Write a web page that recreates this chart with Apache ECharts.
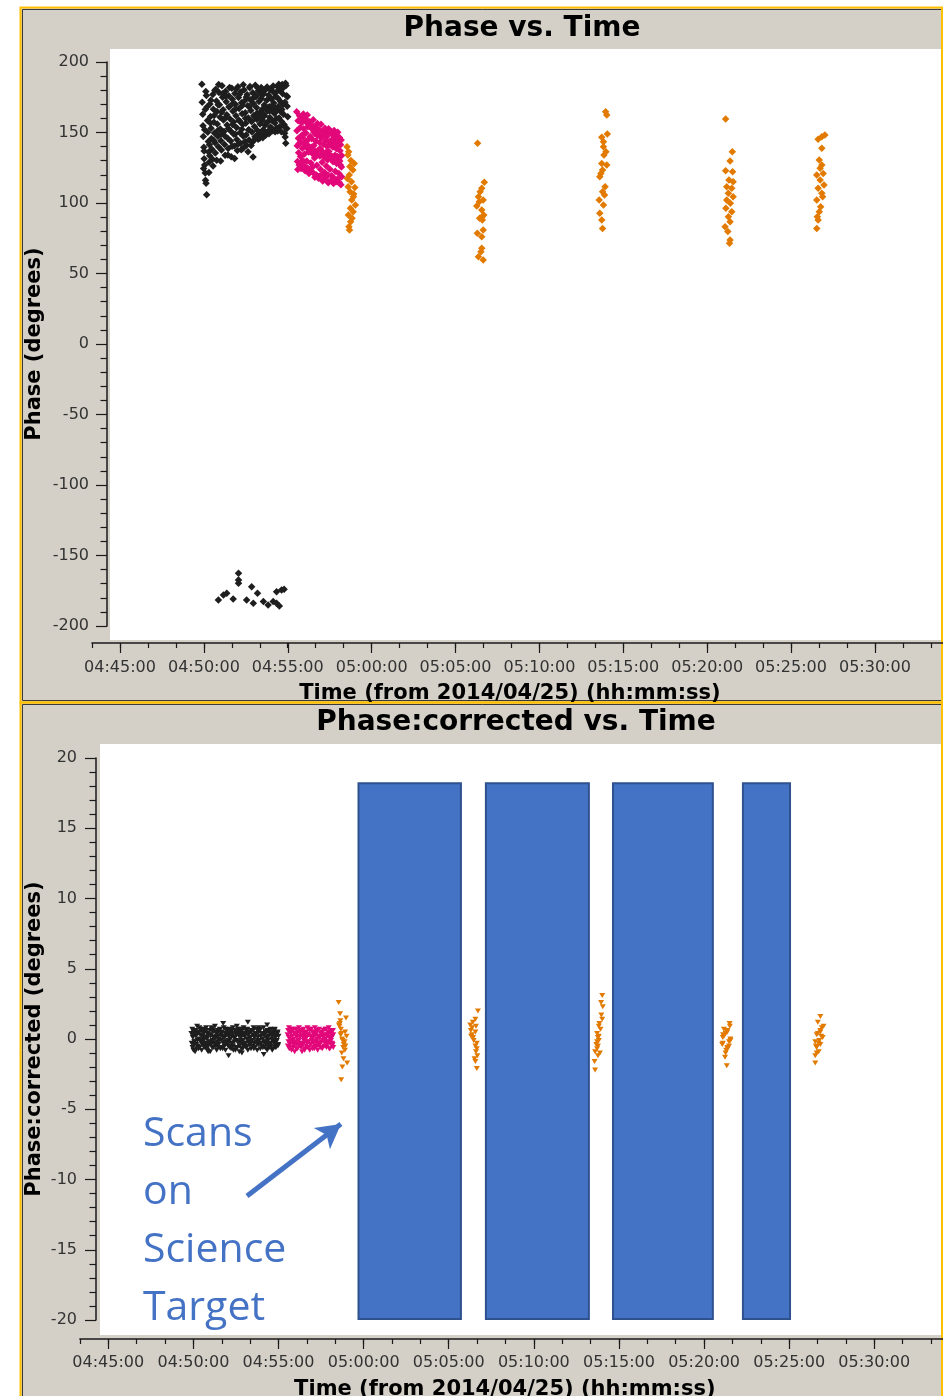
<!DOCTYPE html>
<html>
<head>
<meta charset="utf-8">
<title>Phase vs. Time</title>
<script src="https://cdn.jsdelivr.net/npm/echarts@6/dist/echarts.min.js"></script>
<style>
  html, body { margin: 0; padding: 0; background: #ffffff; }
  #chart { width: 943px; height: 1396px; }
</style>
</head>
<body>
<div id="chart"></div>
<script>
// Each row: [time (seconds since 00:00 UT), phase (deg), corrected phase (deg)]

// Bandpass calibrator scan (black)
const bandpassScan = [
  [17393,184.2,0.4],[17394,171.5,-0.3],[17396,163.0,0.7],[17397,154.8,-0.6],[17398,147.2,0.1],
  [17400,139.6,-0.8],[17401,131.4,0.5],[17403,127.0,-0.2],[17405,121.3,0.3],[17406,116.1,-0.9],
  [17408,114.0,0.6],[17410,105.8,-0.4],[17409,176.3,0.2],[17411,168.0,-0.7],[17413,158.5,0.9],
  [17414,150.1,-0.1],[17416,143.7,0.4],[17417,136.2,-0.5],[17419,128.9,0.0],[17421,133.5,0.8],
  [17422,170.2,-0.6],[17424,161.4,0.3],[17426,153.0,-0.2],[17427,145.8,0.6],[17429,138.1,-0.8],
  [17431,131.0,0.2],[17432,176.9,-0.4],[17434,166.5,0.5],[17436,157.2,-0.1],[17438,149.6,0.7],
  [17440,142.8,-0.6],[17441,135.4,0.1],[17443,180.6,-0.3],[17445,172.3,0.8],[17447,164.9,-0.7],
  [17448,156.1,0.0],[17450,147.3,0.4],[17452,139.9,-0.5],[17454,178.4,0.3],[17456,169.7,-0.2],
  [17458,160.8,0.6],[17459,152.5,-0.9],[17461,144.2,0.2],[17463,137.6,-0.4],[17465,183.1,0.7],
  [17467,175.0,-0.1],[17469,166.2,0.5],[17470,158.9,-0.6],[17472,150.7,0.1],[17474,141.5,-0.3],
  [17476,133.9,0.9],[17478,179.2,-0.5],[17480,171.8,0.2],[17482,162.6,-0.8],[17483,155.3,0.4],
  [17485,146.0,-0.2],[17487,138.7,0.6],[17489,176.1,-0.4],[17491,168.4,0.0],[17493,159.7,0.7],
  [17495,151.2,-0.7],[17496,143.9,0.3],[17498,132.8,-0.1],[17500,181.3,0.5],[17502,173.6,-0.6],
  [17504,165.1,0.2],[17506,157.4,-0.3],[17507,148.8,0.8],[17509,140.5,-0.5],[17511,177.7,0.1],
  [17513,170.0,-0.8],[17515,161.9,0.4],[17517,153.6,-0.2],[17518,145.1,0.6],[17520,137.3,-0.4],
  [17522,182.4,0.3],[17524,174.8,-0.1],[17526,167.0,0.7],[17528,158.2,-0.6],[17529,149.9,0.0],
  [17531,142.4,0.5],[17533,178.9,-0.7],[17535,171.1,0.2],[17537,163.3,-0.3],[17539,155.7,0.8],
  [17540,147.6,-0.5],[17542,139.2,0.1],[17544,180.1,-0.2],[17546,172.5,0.6],[17548,164.0,-0.8],
  [17550,156.6,0.3],[17551,148.3,-0.1],[17553,141.0,0.4],[17555,176.8,-0.6],[17557,168.9,0.7],
  [17559,160.3,-0.3],[17561,152.0,0.2],[17562,144.6,-0.9],[17564,181.7,0.5],[17566,173.2,-0.2],
  [17568,165.6,0.1],[17570,157.9,-0.7],[17572,150.4,0.6],[17573,143.0,-0.4],[17576,132.6,0.3],
  [17575,178.2,-0.1],[17577,170.6,0.8],[17579,162.1,-0.5],[17581,154.3,0.2],[17583,146.9,-0.3],
  [17584,183.5,0.4],[17586,175.4,-0.6],[17588,167.8,0.0],[17590,159.2,0.7],[17592,151.5,-0.8],
  [17594,145.3,0.3],[17595,179.6,-0.2],[17597,171.9,0.5],[17599,163.7,-0.4],[17601,156.0,0.1],
  [17603,149.2,-0.7],[17605,182.0,0.6],[17606,174.1,-0.1],[17608,166.4,0.3],[17610,158.7,-0.5],
  [17612,151.9,0.8],[17614,177.3,-0.3],[17616,169.5,0.2],[17617,161.8,-0.6],[17619,155.1,0.4],
  [17621,148.0,-0.2],[17623,180.9,0.7],[17625,172.8,-0.8],[17627,165.3,0.1],[17628,157.5,-0.4],
  [17630,150.8,0.5],[17632,176.5,-0.1],[17634,168.2,0.6],[17636,160.6,-0.7],[17638,153.9,0.2],
  [17639,181.1,-0.3],[17641,173.7,0.4],[17643,166.0,-0.5],[17645,158.4,0.0],[17647,151.3,0.8],
  [17649,178.7,-0.6],[17650,170.9,0.3],[17652,163.5,-0.2],[17654,156.8,0.5],[17656,175.6,-0.4],
  [17658,167.1,0.1],[17660,159.9,-0.8],[17661,153.2,0.6],[17663,182.7,-0.1],[17665,174.3,0.2],
  [17667,166.7,-0.6],[17669,160.2,0.4],[17671,154.0,-0.3],[17672,179.9,0.7],[17674,172.0,-0.5],
  [17676,164.6,0.0],[17678,157.8,0.3],[17680,184.0,-0.7],[17682,177.5,0.5],[17683,169.8,-0.2],
  [17685,162.9,0.6],[17687,155.6,-0.4],[17689,149.4,0.1],[17691,146.8,-0.6],[17693,142.3,0.3],
  [17694,183.3,-0.1],[17696,176.0,0.4],[17698,168.6,-0.5],[17700,161.2,0.2],
  [17399,124.5,0.2],[17401,136.8,-0.4],[17403,151.9,0.6],[17405,166.4,-0.2],[17407,179.1,0.3],
  [17418,121.6,-0.7],[17420,141.3,0.5],[17423,156.7,-0.1],[17425,172.9,0.7],[17433,126.2,0.1],
  [17435,144.5,-0.5],[17437,162.1,0.4],[17439,179.8,-0.3],[17446,130.4,0.6],[17449,151.2,-0.8],
  [17451,169.6,0.2],[17453,184.0,-0.4],[17460,129.7,0.3],[17462,148.8,-0.2],[17464,164.3,0.8],
  [17466,177.4,-0.6],[17475,147.5,0.0],[17477,160.4,0.5],[17479,175.6,-0.3],[17486,134.1,-0.6],
  [17488,152.9,0.2],[17490,168.0,-0.1],[17492,181.9,0.6],[17501,140.2,0.4],[17503,155.6,-0.7],
  [17505,170.8,0.1],[17510,131.5,-0.2],[17512,149.0,0.7],[17514,166.9,-0.4],[17516,180.7,0.3],
  [17523,141.9,-0.5],[17525,158.6,0.2],[17527,177.0,-0.1],[17534,137.8,0.6],[17536,152.3,-0.3],
  [17538,169.2,0.4],[17541,183.8,-0.8],[17547,143.6,0.1],[17549,160.1,-0.6],[17552,175.2,0.5],
  [17558,136.4,-0.2],[17560,151.7,0.3],[17563,168.3,-0.5],[17565,182.6,0.7],[17569,140.8,-0.1],
  [17571,158.0,0.4],[17574,173.9,-0.7],[17580,144.7,0.2],[17582,161.2,-0.3],[17585,176.6,0.6],
  [17589,147.8,-0.5],[17591,163.9,0.0],[17593,181.5,0.3],[17600,145.9,-0.4],[17602,160.7,0.5],
  [17604,177.1,-0.2],[17611,146.2,0.6],[17613,163.0,-0.6],[17615,179.4,0.1],[17622,150.0,-0.3],
  [17624,167.9,0.4],[17626,182.2,-0.1],[17633,149.1,0.7],[17635,165.2,-0.4],[17637,180.3,0.2],
  [17644,152.6,-0.6],[17646,169.1,0.3],[17648,183.0,-0.2],[17655,150.5,0.5],[17657,164.8,-0.7],
  [17659,178.5,0.1],[17664,151.0,-0.3],[17666,168.5,0.6],[17668,184.3,-0.5],[17677,150.6,0.2],
  [17679,166.3,-0.1],[17681,181.2,0.4],[17688,154.1,-0.6],[17690,171.4,0.3],[17692,185.0,-0.2],
  [17697,152.8,0.5],[17699,175.3,-0.4],
  // baselines whose phase wraps past -180
  [17452,-181.6,-0.9],[17470,-178.0,0.6],[17482,-176.8,-0.3],[17505,-180.9,1.1],[17524,-162.6,-1.2],
  [17524,-167.4,0.4],[17524,-169.7,-0.5],[17553,-181.6,0.9],[17571,-172.1,-1.0],[17577,-183.9,0.3],
  [17592,-176.8,1.2],[17613,-182.7,-0.7],[17630,-185.1,0.8],[17648,-182.7,-1.1],[17660,-183.9,0.5],
  [17670,-185.8,-0.4],[17660,-175.7,1.0],[17678,-174.5,-0.8],[17687,-174.0,0.7]
];

// Flux calibrator scan (magenta)
const fluxScan = [
  [17732,164.8,0.3],[17733,151.2,-0.5],[17734,140.6,0.6],[17735,129.4,-0.2],[17737,158.3,0.8],
  [17738,146.0,-0.7],[17739,135.7,0.1],[17741,127.0,-0.4],[17742,161.9,0.5],[17744,153.4,-0.1],
  [17745,143.1,0.7],[17746,133.0,-0.8],[17748,124.5,0.2],[17750,157.0,-0.3],[17751,148.2,0.6],
  [17752,138.9,-0.6],[17754,130.2,0.0],[17756,163.1,0.4],[17757,152.6,-0.9],[17759,142.4,0.3],
  [17760,134.8,-0.2],[17762,122.8,0.7],[17764,159.5,-0.4],[17765,149.7,0.2],[17767,139.3,-0.7],
  [17768,129.8,0.5],[17770,162.4,-0.1],[17772,154.1,0.8],[17773,144.8,-0.5],[17775,136.2,0.1],
  [17776,120.9,-0.3],[17778,157.6,0.6],[17780,147.1,-0.6],[17781,138.0,0.3],[17783,128.4,-0.9],
  [17785,155.3,0.2],[17786,145.5,-0.4],[17788,135.1,0.7],[17789,125.6,-0.1],[17791,159.0,0.4],
  [17793,150.3,-0.7],[17794,140.7,0.0],[17796,131.9,0.5],[17797,118.2,-0.5],[17799,153.8,0.1],
  [17801,144.0,-0.3],[17802,134.6,0.8],[17804,126.7,-0.6],[17806,156.4,0.3],[17807,147.8,-0.2],
  [17809,137.5,0.6],[17810,117.5,-0.8],[17812,152.2,0.2],[17814,142.9,-0.4],[17815,133.3,0.7],
  [17817,124.0,-0.1],[17819,155.9,0.5],[17820,146.4,-0.7],[17822,136.8,0.1],[17823,128.9,-0.3],
  [17825,115.6,0.4],[17827,151.0,-0.6],[17828,141.6,0.8],[17830,132.4,-0.2],[17832,121.7,0.3],
  [17833,153.1,-0.5],[17835,144.3,0.0],[17836,135.9,0.6],[17838,126.2,-0.8],[17840,149.5,0.2],
  [17841,140.1,-0.3],[17843,130.7,0.7],[17845,114.3,-0.4],[17846,152.7,0.1],[17848,143.5,-0.6],
  [17849,134.2,0.4],[17851,123.9,-0.2],[17853,150.8,0.5],[17854,141.2,-0.7],[17856,131.6,0.2],
  [17857,119.4,-0.1],[17859,148.6,0.6],[17861,139.8,-0.5],[17862,129.3,0.3],[17864,113.8,-0.3],
  [17866,151.4,0.0],[17867,142.7,0.7],[17869,133.8,-0.6],[17870,122.5,0.2],[17872,147.9,-0.4],
  [17874,138.4,0.5],[17875,128.0,-0.2],[17877,116.9,0.8],[17879,150.2,-0.7],[17880,140.9,0.1],
  [17882,131.1,-0.3],[17883,121.0,0.4],[17885,146.5,-0.1],[17887,137.0,0.6],[17888,126.9,-0.5],
  [17890,113.0,0.2],[17891,144.7,-0.4],[17893,133.6,0.3],[17893,118.6,-0.6],
  [17736,123.8,0.1],[17740,141.9,-0.6],[17743,158.9,0.4],[17749,128.7,-0.2],[17753,146.6,0.7],
  [17755,160.2,-0.4],[17761,126.1,0.3],[17763,143.7,-0.7],[17766,157.3,0.2],[17771,124.9,-0.1],
  [17774,140.5,0.5],[17777,156.8,-0.5],[17782,122.4,0.6],[17784,139.6,-0.3],[17787,152.4,0.1],
  [17792,121.3,-0.8],[17795,137.2,0.4],[17798,149.1,-0.2],[17803,119.8,0.3],[17805,134.0,-0.6],
  [17808,151.5,0.7],[17813,118.9,-0.4],[17816,138.7,0.2],[17818,150.1,-0.1],[17824,120.3,0.5],
  [17826,135.3,-0.7],[17829,148.4,0.3],[17834,117.2,-0.2],[17837,131.8,0.6],[17839,146.9,-0.5],
  [17844,119.7,0.1],[17847,136.6,-0.3],[17850,149.8,0.4],[17855,116.0,-0.6],[17858,133.1,0.2],
  [17860,145.2,-0.1],[17865,117.8,0.7],[17868,130.0,-0.4],[17871,147.0,0.3],[17876,115.1,-0.2],
  [17878,132.9,0.5],[17881,144.1,-0.7],[17884,114.6,0.0],[17886,129.7,0.3],[17889,141.4,-0.3],
  [17892,125.5,0.6]
];

// Phase calibrator scans (orange), one array per visit
const phaseCal1 = [
  [17912,139.9,2.6],[17918,136.4,1.3],[17915,134.0,0.9],[17938,128.1,1.5],[17922,125.8,0.4],
  [17933,123.4,-0.2],[17920,119.9,0.7],[17928,115.1,-0.6],[17916,111.6,1.1],[17940,111.0,0.2],
  [17923,108.0,-1.0],[17935,104.5,0.5],[17929,102.1,-1.4],[17924,96.2,0.0],[17934,93.8,-0.8],
  [17917,91.5,1.8],[17930,89.1,-0.4],[17925,86.7,-2.0],[17919,83.2,0.3],[17921,80.9,-2.9],
  [17942,98.5,-1.7],[17926,130.2,-0.1],[17913,117.4,1.0],[17936,106.3,-0.5]
];
const phaseCal2 = [
  [18379,142.3,0.2],[18403,114.7,2.0],[18394,110.4,1.4],[18382,104.5,0.8],[18399,102.1,-0.3],
  [18376,97.9,1.0],[18394,95.0,0.5],[18396,90.3,-0.9],[18386,89.1,0.1],[18401,91.5,-1.2],
  [18378,78.5,0.6],[18394,76.1,-0.5],[18394,67.9,-1.6],[18382,61.9,0.3],[18399,59.6,-2.1],
  [18388,108.0,-0.1],[18385,100.9,1.2],[18399,80.9,-0.7],[18391,65.5,-1.4],[18396,87.9,0.9]
];
const phaseCal3 = [
  [18837,164.8,2.6],[18841,162.4,3.1],[18843,148.9,2.3],[18823,146.6,0.4],[18829,139.9,0.9],
  [18838,136.4,1.7],[18831,134.0,1.1],[18823,128.1,-0.2],[18841,127.0,1.4],[18826,123.4,0.1],
  [18816,118.7,-0.9],[18835,111.6,0.7],[18826,108.0,-0.5],[18814,102.1,-1.6],[18829,98.6,-0.1],
  [18816,92.7,-2.2],[18823,87.9,-0.7],[18826,82.0,-1.2],[18829,143.5,0.2],[18820,121.0,-0.4],
  [18833,105.7,-1.0]
];
const phaseCal4 = [
  [19266,159.6,0.1],[19290,136.4,1.1],[19282,129.8,0.6],[19266,122.9,-0.3],[19291,122.2,0.9],
  [19270,111.6,0.2],[19288,110.4,-0.5],[19276,106.9,0.4],[19293,104.5,-0.1],[19270,102.1,0.7],
  [19283,99.8,-0.7],[19267,96.2,0.3],[19288,93.8,-0.2],[19276,90.3,-1.0],[19282,86.7,0.5],
  [19264,83.2,-0.4],[19274,79.7,-1.3],[19282,73.8,-0.6],[19280,71.4,-1.9],[19293,115.1,0.0],
  [19278,116.3,-0.8]
];
const phaseCal5 = [
  [19610,147.0,1.6],[19621,148.2,0.9],[19597,145.2,0.3],[19610,138.8,-0.4],[19601,130.5,1.2],
  [19610,127.0,0.5],[19592,119.9,-0.2],[19615,121.0,0.8],[19604,116.3,-0.9],[19618,112.8,0.1],
  [19597,110.4,-0.6],[19610,106.9,0.6],[19592,102.1,-1.2],[19606,97.4,-0.1],[19601,93.8,0.4],
  [19594,90.3,-0.5],[19597,87.9,-1.0],[19592,82.0,-1.7],[19613,104.5,0.2],[19604,124.6,-0.3]
];

// Science-target scans: [start, end] in seconds since 00:00 UT
const scienceScans = [[17982, 18343], [18431, 18794], [18879, 19231], [19337, 19503]];
const scienceBand = [18.2, -19.93];          // vertical extent of the scan boxes (deg)
const arrowFromTo = [[17589, -11.17], [17920, -6.05]];
const noteLines = ['Scans', 'on', 'Science', 'Target'];

// Axis ranges and tick steps
const timeRange = [17000, 20100];     // 04:43:20 .. 05:35:00
const timeMajorStart = 17100;         // 04:45:00
const timeMajorStep = 300;
const timeMinorStep = 100;
const lastTimeLabel = 19800;          // 05:30:00
const phaseRange = [-200, 200];
const corrRange = [-20, 20];

const phaseCal = [].concat(phaseCal1, phaseCal2, phaseCal3, phaseCal4, phaseCal5);

const FONT = 'DejaVu Sans';
const INK = '#1a1a1a';
const BLACK = '#1e1e1e', MAGENTA = '#e2087a', ORANGE = '#e37a00', NOTE = '#4472c4';

const pad2 = n => (n < 10 ? '0' : '') + n;
const hms = s => pad2(Math.floor(s / 3600)) + ':' + pad2(Math.floor((s % 3600) / 60)) + ':' + pad2(s % 60);

function minorTimeAxis(gridIndex, offset) {
  return {
    gridIndex, type: 'value', min: timeRange[0], max: timeRange[1], interval: timeMinorStep,
    offset,
    axisLine: { show: true, onZero: false, lineStyle: { color: INK, width: 1.5 } },
    axisTick: { show: true, length: 5, lineStyle: { color: INK, width: 1.2 } },
    axisLabel: { show: false },
    splitLine: { show: false }
  };
}
function majorTimeAxis(gridIndex, offset, labelMargin, nameGap, nameShift) {
  return {
    gridIndex, type: 'value', min: timeMajorStart, max: timeRange[1], interval: timeMajorStep,
    offset,
    axisLine: { show: false, onZero: false },
    axisTick: { show: true, length: 10, lineStyle: { color: INK, width: 1.2 } },
    axisLabel: {
      show: true, margin: labelMargin, fontFamily: FONT, fontSize: 16, color: '#333333',
      formatter: v => (v > lastTimeLabel ? '' : hms(v))
    },
    splitLine: { show: false },
    name: 'Time (from 2014/04/25) (hh:mm:ss)',
    nameLocation: 'middle', nameGap,
    nameTextStyle: { fontFamily: FONT, fontSize: 21, fontWeight: 'bold', color: '#000', padding: [0, nameShift, 0, 0] }
  };
}
function valueAxis(gridIndex, range, interval, offset, margin, name, nameGap) {
  return {
    gridIndex, type: 'value', min: range[0], max: range[1], interval, offset,
    axisLine: { show: true, onZero: false, lineStyle: { color: INK, width: 1.5 } },
    axisTick: { show: true, length: 11, lineStyle: { color: INK, width: 1.2 } },
    minorTick: { show: true, splitNumber: 5, length: 6.5, lineStyle: { color: INK, width: 1.2 } },
    axisLabel: { show: true, margin, fontFamily: FONT, fontSize: 16, color: '#333333' },
    splitLine: { show: false }, minorSplitLine: { show: false },
    name, nameLocation: 'middle', nameGap, nameMoveOverlap: false,
    nameTextStyle: { fontFamily: FONT, fontSize: 21, fontWeight: 'bold', color: '#000' }
  };
}
const hiddenAxis = gridIndex => ({ gridIndex, type: 'value', show: false, min: 0, max: 1 });

function scatter(xi, rows, col, color, upper) {
  return {
    type: 'scatter', xAxisIndex: xi, yAxisIndex: xi, silent: true,
    data: rows.map(r => [r[0], r[col]]),
    symbol: upper ? 'diamond' : 'triangle',
    symbolRotate: upper ? 0 : 180,
    symbolSize: upper ? 7.5 : [6, 5],
    itemStyle: { color, opacity: 1 },
    emphasis: { disabled: true }
  };
}

// Plot rectangles are placed exactly; the time axes run past the right edge.
const fixedGrid = g => Object.assign({ containLabel: false, outerBoundsMode: 'none' }, g);

const chart = echarts.init(document.getElementById('chart'), null, { renderer: 'canvas' });

const option = {
  animation: false,
  backgroundColor: '#ffffff',
  title: [
    { text: 'Phase vs. Time', left: 522, top: 15, textAlign: 'center', padding: 0,
      textStyle: { fontFamily: FONT, fontSize: 28, fontWeight: 'bold', color: '#000' } },
    { text: 'Phase:corrected vs. Time', left: 516, top: 709, textAlign: 'center', padding: 0,
      textStyle: { fontFamily: FONT, fontSize: 28, fontWeight: 'bold', color: '#000' } }
  ],
  grid: [
    fixedGrid({ left: 92, top: 62, width: 866.8, height: 564 }),
    fixedGrid({ left: 120, top: 62, width: 838.8, height: 564 }),
    fixedGrid({ left: 79.9, top: 758, width: 879.5, height: 562 }),
    fixedGrid({ left: 108.3, top: 758, width: 851.1, height: 562 })
  ],
  xAxis: [
    minorTimeAxis(0, 17),
    majorTimeAxis(1, 17, 17, 40.5, 59),
    minorTimeAxis(2, 19),
    majorTimeAxis(3, 19, 16, 40, 58)
  ],
  yAxis: [
    valueAxis(0, phaseRange, 50, -15, 18, 'Phase (degrees)', 61.5),
    hiddenAxis(1),
    valueAxis(2, corrRange, 5, -16.1, 19, 'Phase:corrected (degrees)', 50.5),
    hiddenAxis(3)
  ],
  graphic: {
    elements: [
      // panel backgrounds
      { type: 'rect', z: -20, silent: true, shape: { x: 21, y: 8, width: 921, height: 694 }, style: { fill: '#d4d0c8' } },
      { type: 'rect', z: -20, silent: true, shape: { x: 21, y: 703, width: 921, height: 700 }, style: { fill: '#d4d0c8' } },
      // plotting areas
      { type: 'rect', z: -19, silent: true, shape: { x: 110, y: 49, width: 832, height: 591 }, style: { fill: '#ffffff' } },
      { type: 'rect', z: -19, silent: true, shape: { x: 100, y: 744, width: 842, height: 591 }, style: { fill: '#ffffff' } },
      // panel frames
      { type: 'rect', z: -18, silent: true, shape: { x: 22.5, y: 9.5, width: 919.5, height: 691 }, style: { fill: 'none', stroke: '#3a3a3a', lineWidth: 1 } },
      { type: 'rect', z: -18, silent: true, shape: { x: 22.5, y: 704.5, width: 919.5, height: 800 }, style: { fill: 'none', stroke: '#3a3a3a', lineWidth: 1 } },
      { type: 'rect', z: -17, silent: true, shape: { x: 20.5, y: 7.5, width: 921.5, height: 695 }, style: { fill: 'none', stroke: '#ffc000', lineWidth: 2 } },
      { type: 'rect', z: -17, silent: true, shape: { x: 20.5, y: 702.5, width: 921.5, height: 800 }, style: { fill: 'none', stroke: '#ffc000', lineWidth: 2 } },
      // annotation text
      { type: 'text', z: 20, silent: true, x: 143, y: 1105,
        style: { text: noteLines.join('\n'), fill: NOTE, fontFamily: 'Open Sans', fontSize: 41,
                 lineHeight: 58, align: 'left', verticalAlign: 'top' } }
    ]
  },
  series: [
    scatter(0, bandpassScan, 1, BLACK, true),
    scatter(0, fluxScan, 1, MAGENTA, true),
    scatter(0, phaseCal, 1, ORANGE, true),
    scatter(2, bandpassScan, 2, BLACK, false),
    scatter(2, fluxScan, 2, MAGENTA, false),
    scatter(2, phaseCal, 2, ORANGE, false),
    {
      type: 'scatter', xAxisIndex: 2, yAxisIndex: 2, data: [], silent: true,
      markArea: {
        silent: true,
        itemStyle: { color: NOTE, borderColor: '#2f528f', borderWidth: 2, opacity: 1 },
        label: { show: false },
        emphasis: { disabled: true },
        data: scienceScans.map(s => [
          { xAxis: s[0], yAxis: scienceBand[0] },
          { xAxis: s[1], yAxis: scienceBand[1] }
        ])
      },
      markLine: {
        silent: true,
        symbol: ['none', 'arrow'],
        symbolSize: [20, 24],
        label: { show: false },
        emphasis: { disabled: true },
        lineStyle: { color: NOTE, width: 5, type: 'solid', opacity: 1 },
        data: [[{ coord: arrowFromTo[0] }, { coord: arrowFromTo[1] }]]
      }
    }
  ]
};

chart.setOption(option);
</script>
</body>
</html>
